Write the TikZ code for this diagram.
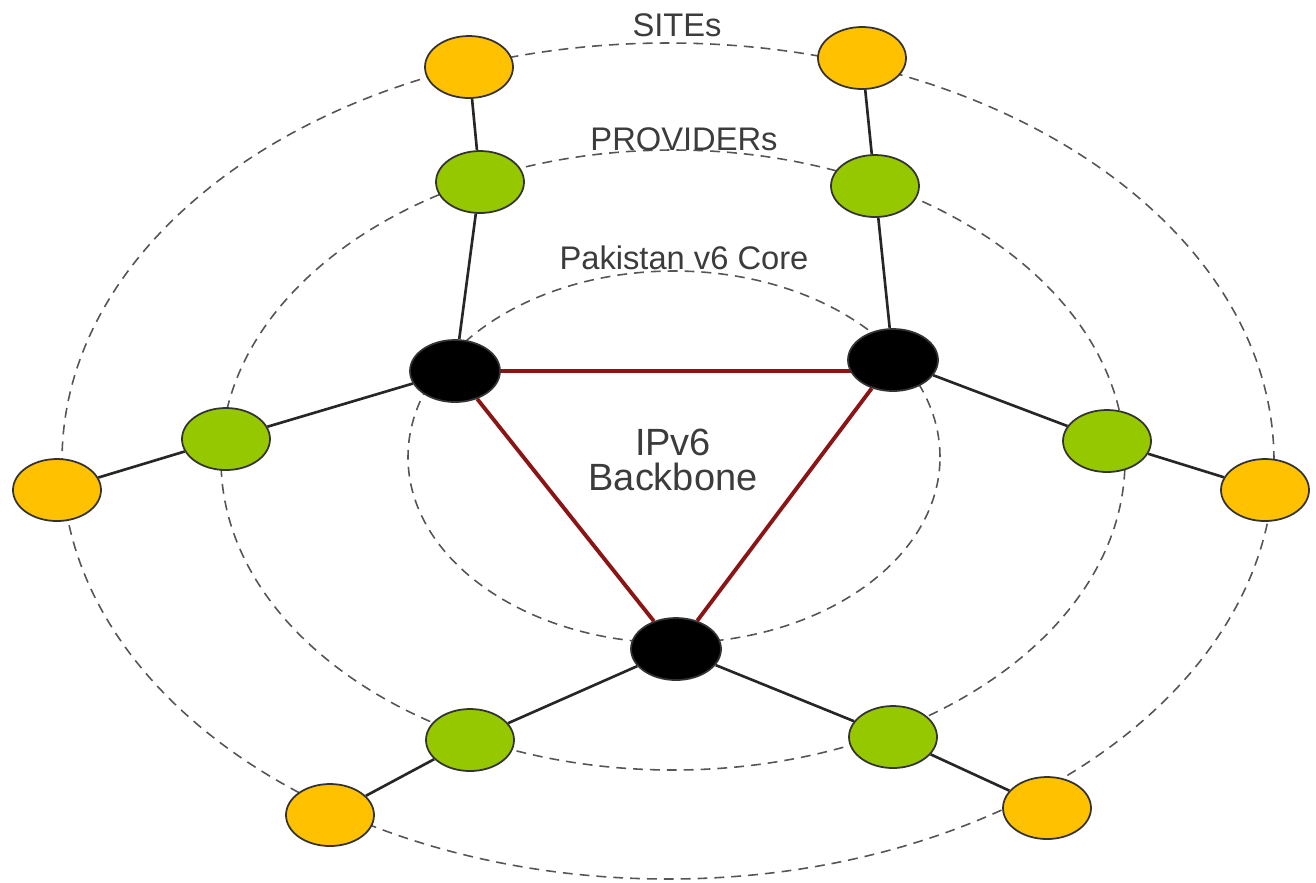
\documentclass[tikz,border=0pt]{standalone}
\usepackage{fontspec}
\setmainfont{Liberation Sans}
\usepackage{tikz}
\usetikzlibrary{shapes.geometric, backgrounds}
\definecolor{site}{RGB}{255, 193, 0}
\definecolor{provider}{RGB}{150, 200, 0}
\definecolor{ring}{RGB}{85, 85, 85}
\definecolor{trunk}{RGB}{140, 20, 20}
\definecolor{caption}{RGB}{60, 60, 60}

\tikzset{
  hub/.style={ellipse, draw=black!80, line width=0.5pt, inner sep=0pt,
    minimum width=0.88cm, minimum height=0.62cm},
  sitenode/.style={hub, fill=site},
  providernode/.style={hub, fill=provider},
  corenode/.style={hub, fill=black, minimum width=0.90cm},
  ringline/.style={ring, line width=0.45pt, dash pattern=on 2.8pt off 2pt},
  link/.style={black!85, line width=0.75pt},
  trunkline/.style={trunk, line width=1.1pt, line join=round},
  ringlabel/.style={caption, font=\fontsize{9.3}{11}\selectfont}
}

\begin{document}
\begin{tikzpicture}
  \useasboundingbox (0, 0) rectangle (13.16, -8.82);

  % Sites (outer ring)
  \foreach \nm/\x/\y in {s1/4.69/-0.67, s2/8.62/-0.58, s3/0.57/-4.90,
                         s4/12.65/-4.90, s5/3.30/-8.15, s6/10.47/-8.08} {
    \node[sitenode] (\nm) at (\x, \y) {};
  }

  % Providers (middle ring)
  \foreach \nm/\x/\y in {p1/4.80/-1.82, p2/8.75/-1.86, p3/2.26/-4.39,
                         p4/11.07/-4.41, p5/4.70/-7.40, p6/8.93/-7.37} {
    \node[providernode] (\nm) at (\x, \y) {};
  }

  % Core
  \node[corenode] (c1) at (4.55, -3.71) {};
  \node[corenode] (c2) at (8.93, -3.60) {};
  \node[corenode] (c3) at (6.76, -6.49) {};

  \begin{scope}[on background layer]
    % Rings
    \draw[ringline] (6.68, -4.61) ellipse (6.06 and 4.18);
    \draw[ringline] (6.73, -4.60) ellipse (4.52 and 3.10);
    \draw[ringline] (6.74, -4.57) ellipse (2.66 and 1.86);

    % Links
    \foreach \a/\b in {s1/p1, p1/c1, s2/p2, p2/c2, s3/p3, p3/c1,
                       s4/p4, p4/c2, s5/p5, p5/c3, s6/p6, p6/c3} {
      \draw[link] (\a) -- (\b);
    }

    % Backbone triangle
    \draw[trunkline] (c1) -- (c1 -| c2);
    \draw[trunkline] (c2) -- (c3) -- (c1);
  \end{scope}

  % Labels
  \node[ringlabel] (sitesLabel) at (6.77, -0.25) {SITEs};
  \node[ringlabel] (providersLabel) at (6.84, -1.39) {PROVIDERs};
  \node[ringlabel] (coreLabel) at (6.84, -2.58) {Pakistan v6 Core};
  \node[caption, align=center, font=\fontsize{10.8}{9.8}\selectfont]
    (backboneLabel) at (6.73, -4.60) {IPv6\\Backbone};
\end{tikzpicture}
\end{document}
